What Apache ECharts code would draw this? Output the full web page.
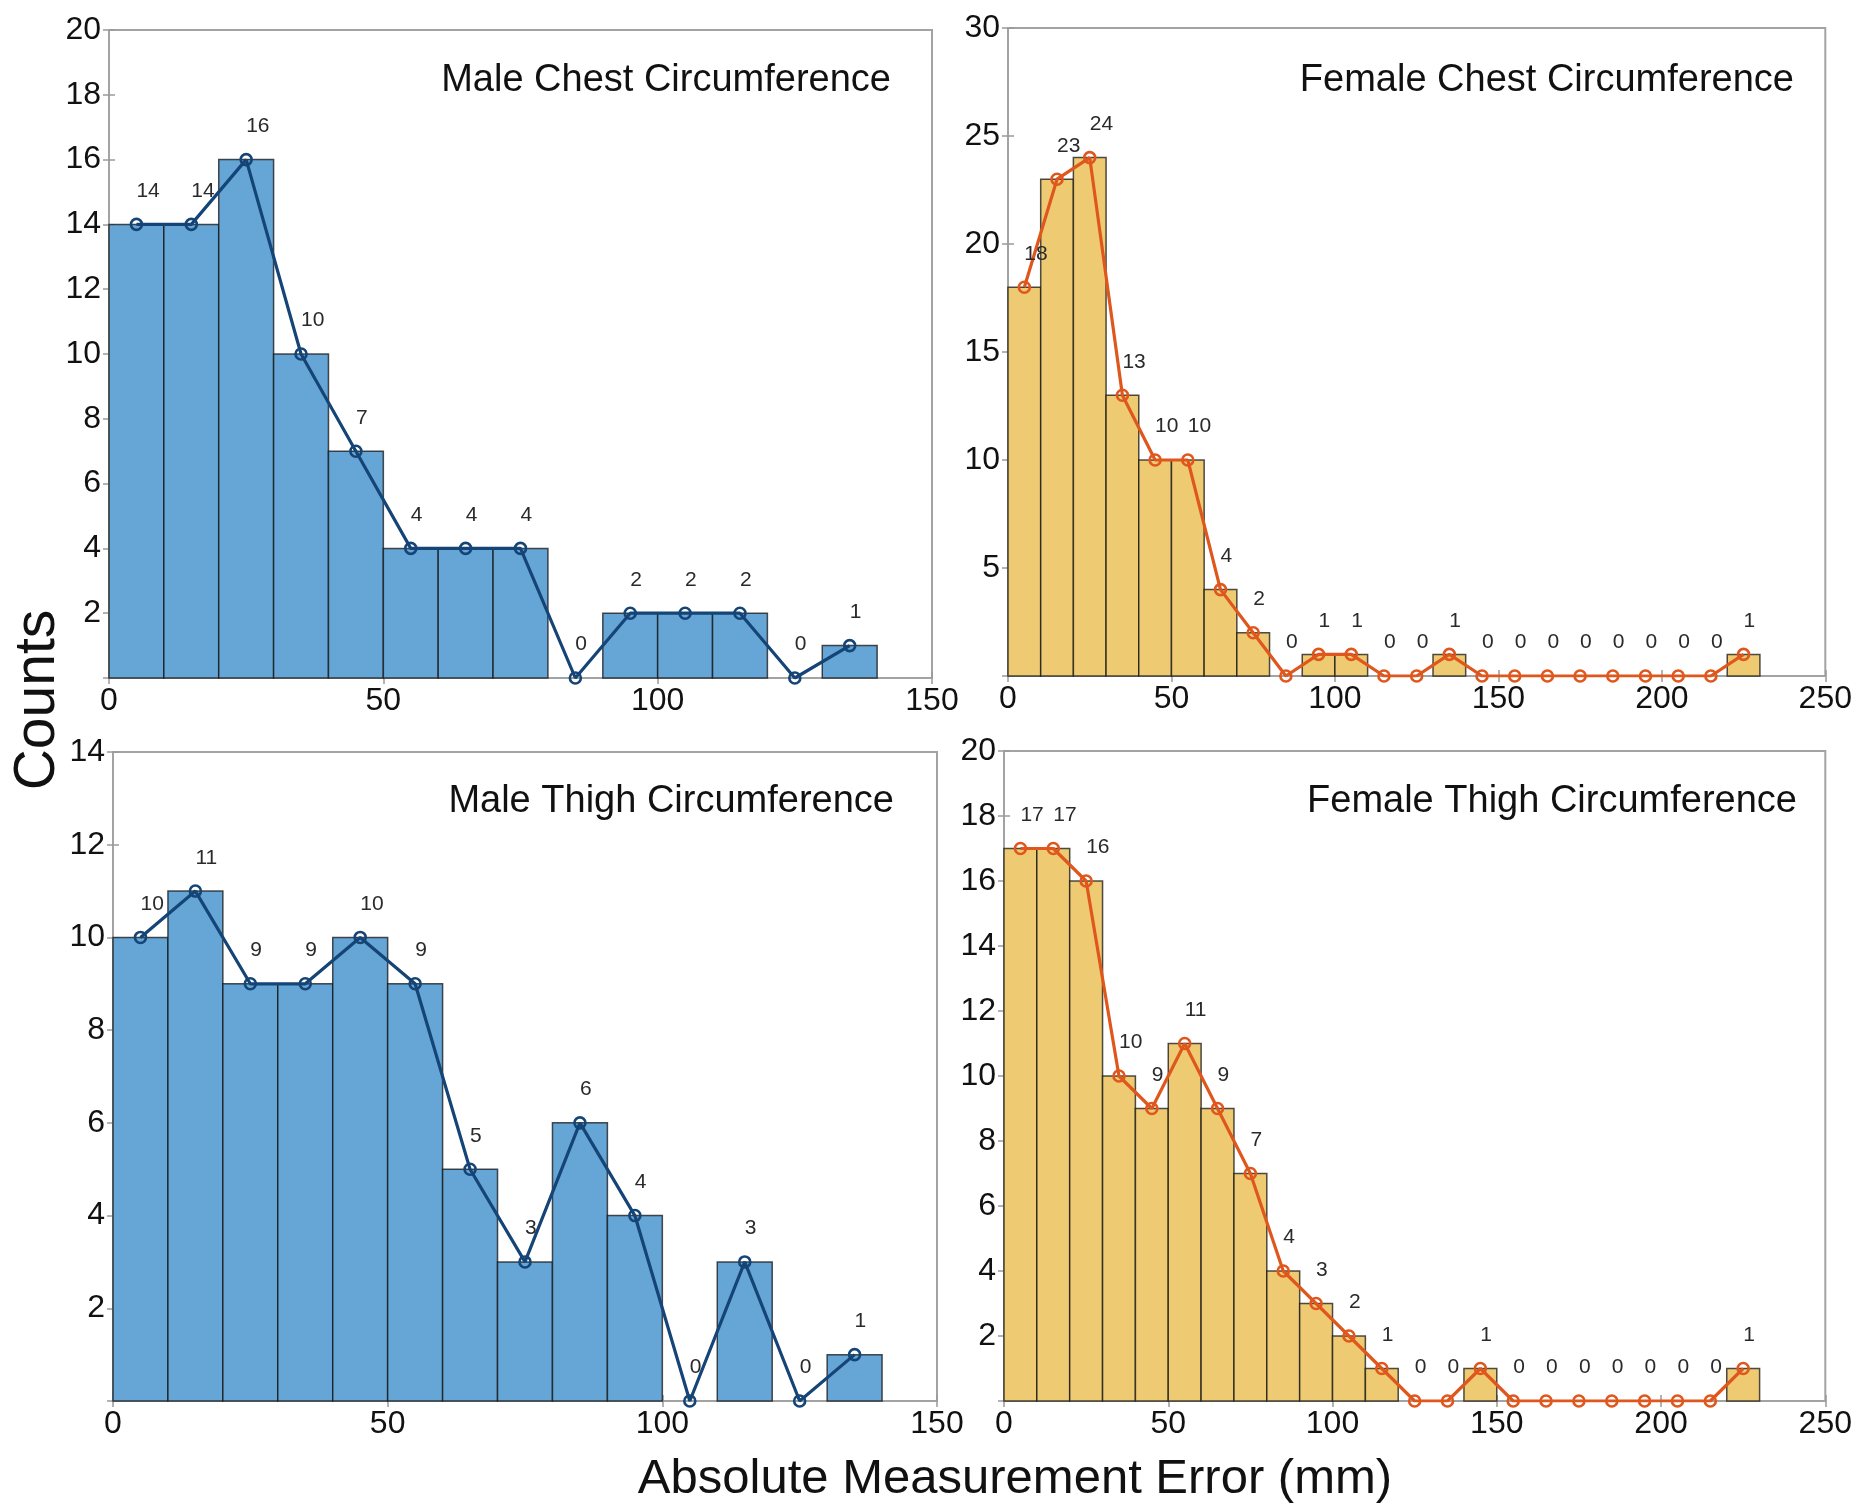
<!DOCTYPE html>
<html>
<head>
<meta charset="utf-8">
<script src="https://cdn.jsdelivr.net/npm/echarts@6/dist/echarts.min.js"></script>
<style>
  html, body { margin: 0; padding: 0; background: #fff; }
  #chart { width: 1855px; height: 1505px; }
</style>
</head>
<body>
<div id="chart"></div>
<script>
// bin edges (mm)
const maleEdges = [0, 10, 20, 30, 40, 50, 60, 70, 80, 90, 100, 110, 120, 130, 140]
const femaleEdges = [0, 10, 20, 30, 40, 50, 60, 70, 80, 90, 100, 110, 120, 130, 140, 150, 160, 170, 180, 190, 200, 210, 220, 230]

// counts per bin
const maleChestCounts = [14, 14, 16, 10, 7, 4, 4, 4, 0, 2, 2, 2, 0, 1]
const femaleChestCounts = [18, 23, 24, 13, 10, 10, 4, 2, 0, 1, 1, 0, 0, 1, 0, 0, 0, 0, 0, 0, 0, 0, 1]
const maleThighCounts = [10, 11, 9, 9, 10, 9, 5, 3, 6, 4, 0, 3, 0, 1]
const femaleThighCounts = [17, 17, 16, 10, 9, 11, 9, 7, 4, 3, 2, 1, 0, 0, 1, 0, 0, 0, 0, 0, 0, 0, 1]

const panelTitles = ['Male Chest Circumference', 'Female Chest Circumference', 'Male Thigh Circumference', 'Female Thigh Circumference']
const xMax = [150, 250, 150, 250]
const yMax = [20, 30, 14, 20]
const yStep = [2, 5, 2, 2]

const font = '"Liberation Sans", Arial, Helvetica, sans-serif'
const blue = { bar: '#65a6d6', line: '#154476' }
const gold = { bar: '#eecb73', line: '#e0571d' }

let panels = [
  { edges: maleEdges, counts: maleChestCounts, col: blue, grid: { left: 109, top: 30, width: 823, height: 648 }, titleRight: 964, titleTop: 62 },
  { edges: femaleEdges, counts: femaleChestCounts, col: gold, grid: { left: 1008, top: 28, width: 825, height: 648 }, titleRight: 61, titleTop: 62 },
  { edges: maleEdges, counts: maleThighCounts, col: blue, grid: { left: 113, top: 752, width: 824, height: 649 }, titleRight: 961, titleTop: 783 },
  { edges: femaleEdges, counts: femaleThighCounts, col: gold, grid: { left: 1004, top: 751, width: 824, height: 650 }, titleRight: 58, titleTop: 783 }
]

let grids = [], xAxes = [], yAxes = [], series = [], titles = []

panels.forEach(function (p, i) {
  grids.push(Object.assign({ show: true, borderColor: '#a3a3a3', borderWidth: 2, backgroundColor: '#fff' }, p.grid))

  let tick = { show: true, inside: true, length: 6, lineStyle: { color: '#9a9a9a', width: 1.5 } }
  xAxes.push({
    type: 'value', gridIndex: i, position: 'bottom', min: 0, max: xMax[i], interval: 50,
    axisLine: { show: false }, axisTick: tick, splitLine: { show: false },
    axisLabel: { fontFamily: font, fontSize: 32, color: '#111', margin: 7 }
  })
  xAxes.push({
    type: 'value', gridIndex: i, position: 'top', min: 0, max: xMax[i], interval: 50,
    axisLine: { show: false }, axisTick: tick, splitLine: { show: false }, axisLabel: { show: false }
  })
  yAxes.push({
    type: 'value', gridIndex: i, position: 'left', min: 0, max: yMax[i], interval: yStep[i],
    axisLine: { show: false }, axisTick: tick, splitLine: { show: false },
    axisLabel: {
      fontFamily: font, fontSize: 32, color: '#111', margin: 8,
      formatter: function (v) { return v === 0 ? '' : v }
    }
  })
  yAxes.push({
    type: 'value', gridIndex: i, position: 'right', min: 0, max: yMax[i], interval: yStep[i],
    axisLine: { show: false }, axisTick: tick, splitLine: { show: false }, axisLabel: { show: false }
  })

  let bins = p.counts.map(function (c, k) { return [p.edges[k], p.edges[k + 1], c] })
  let centers = p.counts.map(function (c, k) { return [(p.edges[k] + p.edges[k + 1]) / 2, c] })

  series.push({
    type: 'custom', xAxisIndex: 2 * i, yAxisIndex: 2 * i,
    encode: { x: [0, 1], y: 2 },
    data: bins,
    renderItem: function (params, api) {
      let n = api.value(2)
      if (!n) return null
      let a = api.coord([api.value(0), n])
      let b = api.coord([api.value(1), 0])
      return {
        type: 'rect',
        shape: { x: a[0], y: a[1], width: b[0] - a[0], height: b[1] - a[1] },
        style: { fill: p.col.bar, stroke: 'rgba(20,20,20,0.75)', lineWidth: 1.5 }
      }
    },
    z: 2
  })

  series.push({
    type: 'line', xAxisIndex: 2 * i, yAxisIndex: 2 * i,
    data: centers,
    symbol: 'circle', symbolSize: 11,
    lineStyle: { color: p.col.line, width: 3.2 },
    itemStyle: { color: 'rgba(0,0,0,0)', borderColor: p.col.line, borderWidth: 2.6 },
    label: {
      show: true, position: 'top', align: 'left', offset: [0, -11],
      fontFamily: font, fontSize: 21, color: '#2a2a2a',
      formatter: function (params) { return params.value[1] }
    },
    z: 3
  })

  titles.push({
    text: panelTitles[i], right: p.titleRight, top: p.titleTop, padding: 0,
    textStyle: { fontFamily: font, fontSize: 38, fontWeight: 'normal', color: '#111' }
  })
})

let chart = echarts.init(document.getElementById('chart'))
chart.setOption({
  backgroundColor: '#fff',
  animation: false,
  title: titles,
  grid: grids,
  xAxis: xAxes,
  yAxis: yAxes,
  series: series,
  graphic: [
    {
      type: 'text', x: 38, y: 700, rotation: Math.PI / 2,
      style: { text: 'Counts', fontFamily: font, fontSize: 57, fill: '#111', textAlign: 'center', textVerticalAlign: 'middle' }
    },
    {
      type: 'text', x: 1015, y: 1479,
      style: { text: 'Absolute Measurement Error (mm)', fontFamily: font, fontSize: 49, fill: '#111', textAlign: 'center', textVerticalAlign: 'middle' }
    }
  ]
})
</script>
</body>
</html>
